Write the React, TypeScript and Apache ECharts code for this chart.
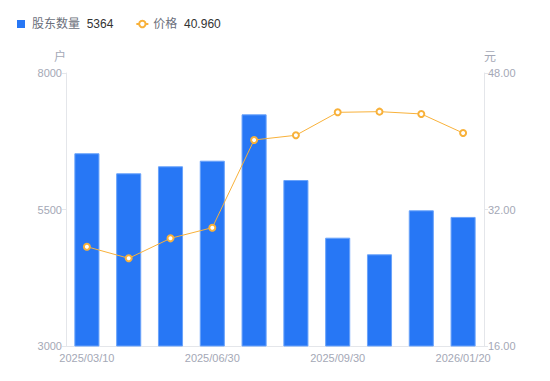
import React, { useEffect, useRef } from "react";
import * as echarts from "echarts";

const categories = [
  "2025/03/10",
  "2025/03/31",
  "2025/04/30",
  "2025/06/30",
  "2025/07/31",
  "2025/08/29",
  "2025/09/30",
  "2025/10/31",
  "2025/12/31",
  "2026/01/20",
];
const holders = [6530, 6163, 6291, 6394, 7243, 6040, 4984, 4679, 5485, 5364];
const prices = [27.64, 26.28, 28.62, 29.87, 40.15, 40.7, 43.39, 43.47, 43.2, 40.96];
const leftTicks = { min: 3000, max: 8000, interval: 2500 };
const rightTicks = { min: 16, max: 48, interval: 16 };

const FONT = "'Liberation Sans', 'Noto Sans CJK SC', sans-serif";
const BLUE = "#2777f5";
const ORANGE = "#f8b13a";
const LABEL = "#a4a8b6";

export default function App() {
  const ref = useRef<HTMLDivElement>(null);
  useEffect(() => {
    if (!ref.current) return;
    const chart = echarts.init(ref.current, null, { renderer: "svg" });
    const lastH = holders[holders.length - 1];
    const lastP = prices[prices.length - 1].toFixed(3);
    chart.setOption({
      animation: false,
      textStyle: { fontFamily: FONT },
      legend: {
        left: 12,
        top: 13,
        itemWidth: 12,
        itemHeight: 8,
        itemGap: 22,
        symbolKeepAspect: true,
        data: [
          {
            name: "股东数量",
            icon: "path://M0,0L8,0L8,8L0,8Z",
            itemStyle: { color: BLUE, borderWidth: 0 },
          },
          { name: "价格" },
        ],
        formatter: (name: string) =>
          name === "股东数量"
            ? `{a|${name}}  {b|${lastH}}`
            : `{a|${name}}  {b|${lastP}}`,
        textStyle: {
          fontFamily: FONT,
          rich: {
            a: { color: "#6b6f7b", fontSize: 12, fontFamily: FONT },
            b: { color: "#333", fontSize: 12, fontFamily: FONT },
          },
        },
      },
      grid: { left: 66, right: 66, top: 73, bottom: 35 },
      xAxis: {
        type: "category",
        data: categories,
        axisLine: { lineStyle: { color: "#e4e6ea" } },
        axisTick: { show: false },
        axisLabel: {
          interval: 2,
          color: LABEL,
          fontSize: 11,
          margin: 6,
          fontFamily: FONT,
        },
      },
      yAxis: [
        {
          type: "value",
          name: "户",
          nameGap: 10,
          nameTextStyle: { color: LABEL, fontSize: 12, align: "right", fontFamily: FONT },
          min: leftTicks.min,
          max: leftTicks.max,
          interval: leftTicks.interval,
          splitLine: { show: false },
          axisLine: { show: true, lineStyle: { color: "#e4e6ea" } },
          axisTick: { show: true, length: 4, lineStyle: { color: "#e4e6ea" } },
          axisLabel: {
            color: LABEL,
            fontSize: 11,
            margin: 4,
            fontFamily: FONT,
            formatter: (v: number) => String(v),
          },
        },
        {
          type: "value",
          name: "元",
          nameGap: 10,
          nameTextStyle: { color: LABEL, fontSize: 12, align: "left", fontFamily: FONT },
          min: rightTicks.min,
          max: rightTicks.max,
          interval: rightTicks.interval,
          splitLine: { show: false },
          axisLine: { show: true, lineStyle: { color: "#e4e6ea" } },
          axisTick: { show: true, length: 4, lineStyle: { color: "#e4e6ea" } },
          axisLabel: {
            color: LABEL,
            fontSize: 11,
            margin: 4,
            fontFamily: FONT,
            formatter: (v: number) => v.toFixed(2),
          },
        },
      ],
      series: [
        {
          name: "股东数量",
          type: "bar",
          yAxisIndex: 0,
          data: holders,
          barWidth: "60%",
          itemStyle: { color: BLUE, borderColor: "#6aa3fa", borderWidth: 1 },
        },
        {
          name: "价格",
          type: "line",
          yAxisIndex: 1,
          data: prices,
          symbol: "emptyCircle",
          symbolSize: 6,
          lineStyle: { color: ORANGE, width: 1 },
          itemStyle: { color: ORANGE, borderWidth: 2 },
        },
      ],
    });
    return () => chart.dispose();
  }, []);
  return <div ref={ref} style={{ width: 550, height: 381, margin: -8 }} />;
}
